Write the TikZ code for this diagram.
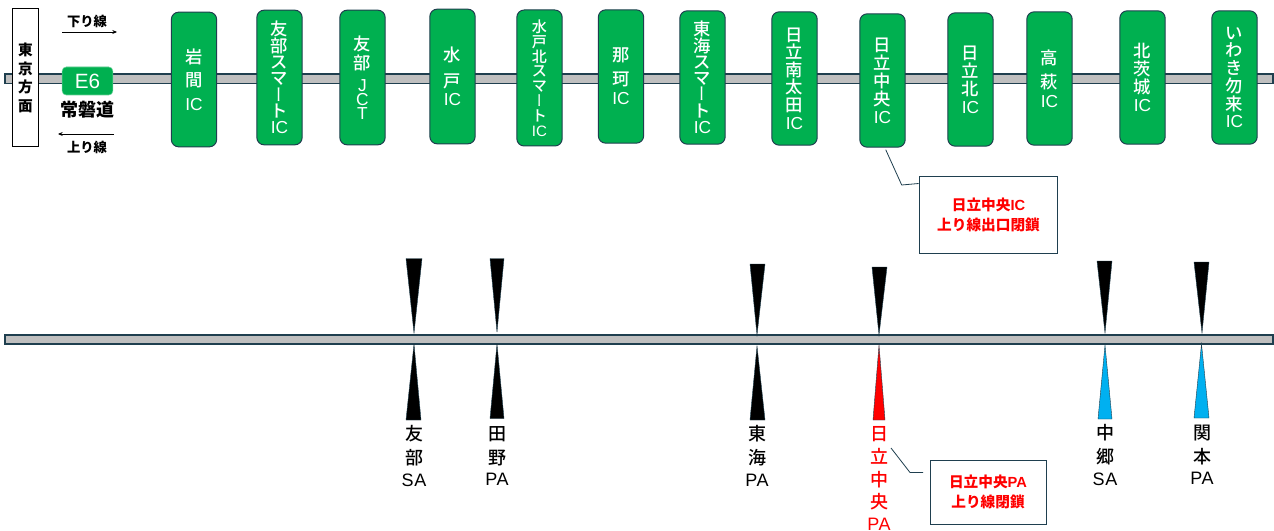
\documentclass[tikz,border=0pt]{standalone}
\usepackage{fontspec}
\setmainfont{Liberation Sans}
\newfontfamily\jp{Noto Sans CJK JP}
\newfontfamily\jpm[UprightFont=* Medium]{Noto Sans CJK JP}
\newfontfamily\lam[LetterSpace=3]{Liberation Sans}
\newfontfamily\jpv[RawFeature={+vert}]{Noto Sans CJK JP}
\newcommand{\la}[1]{{\rmfamily #1}}
\newcommand{\lb}[1]{{\lam #1}}
\newcommand{\cho}{{\jpv ー}}
\usetikzlibrary{calc,arrows.meta}
\definecolor{gr}{HTML}{00B050}
\definecolor{edge}{HTML}{1F3F4F}
\definecolor{rd}{HTML}{BFBFBF}
\definecolor{sky}{HTML}{00B0F0}
\tikzset{
  x=.75pt,y=-.75pt,
  road/.style={draw=edge,fill=rd,line width=.8pt},
  icbox/.style={draw=edge,fill=gr,text=white,rounded corners=5.5pt,line width=.75pt,
    minimum width=34pt,inner sep=0pt,align=center},
  tri/.style={draw=edge,line width=.3pt},
  fs/.style={font=\jpm\fontsize{13}{#1}\selectfont},
  small/.style={font=\jpm\fontsize{11.3}{#1}\selectfont},
  sidelabel/.style={inner sep=0pt,align=center,font=\jpm\fontsize{13.5}{18}\selectfont},
  dirlabel/.style={inner sep=0pt,font=\jp\bfseries\fontsize{10}{12}\selectfont},
  notice/.style={draw=edge,fill=white,line width=.75pt,text=red,inner sep=0pt,align=center,
    font=\jp\bfseries\fontsize{11}{15}\selectfont},
  callout/.style={draw=edge,line width=.6pt},
  dirarrow/.style={draw=black,line width=.6pt,-{Stealth[length=3.5pt,width=3pt]}}
}
\begin{document}
\begin{tikzpicture}
\useasboundingbox (0,0) rectangle (1274,531);
\fill[white] (0,0) rectangle (1274,531);
% roads
\draw[road] (5,74) rectangle (1273,83.5);
\draw[road] (5,335) rectangle (1273,344);
% legend
\node[draw=black,fill=white,line width=.75pt,minimum width=20pt,minimum height=103.5pt,inner sep=0pt,align=center,
  font=\jp\bfseries\fontsize{11}{13.9}\selectfont] (tokyo) at (25.5,78) {東\\京\\方\\面};
\node[fill=gr,draw=gr!60!white,rounded corners=3pt,minimum width=38pt,minimum height=21pt,inner sep=0pt,
  text=white,font=\fontsize{15.5}{18}\selectfont] (e6) at (87.5,81) {E6};
\node[inner sep=0pt,font=\jp\bfseries\fontsize{13.5}{16}\selectfont] (joban) at (87,110) {常磐道};
\node[dirlabel] (down) at (87,21) {下り線};
\node[dirlabel] (up) at (87,147) {上り線};
\coordinate (d1) at (62,32); \coordinate (d2) at (117,32);
\coordinate (u1) at (114,134); \coordinate (u2) at (58,134);
\draw[dirarrow] (d1) -- (d2);
\draw[dirarrow] (u1) -- (u2);
% interchanges
\node[icbox,minimum height=101pt,fs=18] (iwama) at (194,79.5) {岩\\[-1pt]間\\\la{IC}};
\node[icbox,minimum height=101pt,fs=12.2] (tomobeS) at (279.5,77.5) {友\\部\\ス\\マ\\\cho\\ト\\\la{IC}};
\node[icbox,minimum height=101pt,fs=13.5] (tomobeJ) at (362.5,77.5) {友\\[1pt]部\\[3pt]\la{J}\\[-3pt]\la{C}\\[-3pt]\la{T}};
\node[icbox,minimum height=101pt,fs=18] (mito) at (452.5,76.5) {水\\[1pt]戸\\[-4pt]\la{IC}};
\node[icbox,minimum height=102pt,small=11.1] (mitoK) at (539.5,78) {水\\戸\\北\\ス\\マ\\\cho\\ト\\\la{IC}};
\node[icbox,minimum height=100pt,fs=18] (naka) at (621,76.5) {那\\珂\\[-4pt]\la{IC}};
\node[icbox,minimum height=100pt,fs=12.2] (tokaiS) at (702.5,77.5) {東\\海\\ス\\マ\\\cho\\ト\\\la{IC}};
\node[icbox,minimum height=100pt,fs=13.2] (minami) at (794.5,78.5) {日\\立\\南\\太\\田\\\la{IC}};
\node[icbox,minimum height=100pt,fs=13.5] (chuo) at (882.5,80.5) {日\\立\\中\\央\\\la{IC}};
\node[icbox,minimum height=100pt,fs=13.5] (kita) at (970.5,79.5) {日\\立\\北\\\la{IC}};
\node[icbox,minimum height=100pt,fs=18] (takahagi) at (1049.5,78.5) {高\\萩\\[-4pt]\la{IC}};
\node[icbox,minimum height=100pt,fs=13.5] (ibaraki) at (1142.5,77.5) {北\\茨\\城\\\la{IC}};
\node[icbox,minimum height=100pt,fs=13.3] (iwaki) at (1234.5,77.5) {い\\わ\\き\\勿\\来\\\la{IC}};
% notices
\node[notice,minimum width=104pt,minimum height=57pt] (nIC) at (988.5,215) {\raisebox{-1pt}{日立中央\la{IC}}\\\raisebox{-1pt}{上り線出口閉鎖}};
\node[notice,minimum width=87pt,minimum height=48.4pt] (nPA) at (988,492.3) {日立中央\la{PA}\\上り線閉鎖};
\draw[callout] ($(chuo.south)+(3.2,2)$) -- (901.7,185) -- ($(nIC.north west)+(0,7)$);
\coordinate (pStart) at (891,448); \coordinate (pEnd) at (923,472.5);
\draw[callout] (pStart) -- (910,472.5) -- (pEnd);
% upper triangles (pointing down)
\draw[tri,fill=black] (406,258.5) -- (422,258.5) -- (414,333) -- cycle;
\draw[tri,fill=black] (490,258.5) -- (504,258.5) -- (497,332) -- cycle;
\draw[tri,fill=black] (750,264) -- (765,264) -- (757,335) -- cycle;
\draw[tri,fill=black] (872,267) -- (887,267) -- (879,335) -- cycle;
\draw[tri,fill=black] (1097,261) -- (1112,261) -- (1105,333) -- cycle;
\draw[tri,fill=black] (1194,262) -- (1209,262) -- (1202,333) -- cycle;
% lower triangles (pointing up)
\draw[tri,fill=black] (406,420) -- (421,420) -- (414,344) -- cycle;
\draw[tri,fill=black] (490,418.5) -- (504,418.5) -- (497,344) -- cycle;
\draw[tri,fill=black] (750,420) -- (765,420) -- (757,346) -- cycle;
\draw[tri,fill=red] (873,420) -- (885,420) -- (879,345) -- cycle;
\draw[tri,fill=sky] (1098,419) -- (1112,419) -- (1105,345) -- cycle;
\draw[tri,fill=sky] (1194,418) -- (1209,418) -- (1201.5,344) -- cycle;
% labels
\node[sidelabel] (lTomobe) at (414,456) {友\\部\\[-2pt]\lb{SA}};
\node[sidelabel] (lTano) at (497,456) {田\\野\\[-2pt]\lb{PA}};
\node[sidelabel] (lTokai) at (757,456) {東\\海\\[-2pt]\lb{PA}};
\node[sidelabel,text=red,anchor=north] (lChuo) at (879,426.5) {日\\[-1pt]立\\[-1pt]中\\[-1pt]央\\[-2pt]\lb{PA}};
\node[sidelabel] (lNaka) at (1105,455) {中\\郷\\[-2pt]\lb{SA}};
\node[sidelabel] (lSeki) at (1202,455) {関\\本\\[-2pt]\lb{PA}};
\end{tikzpicture}
\end{document}
